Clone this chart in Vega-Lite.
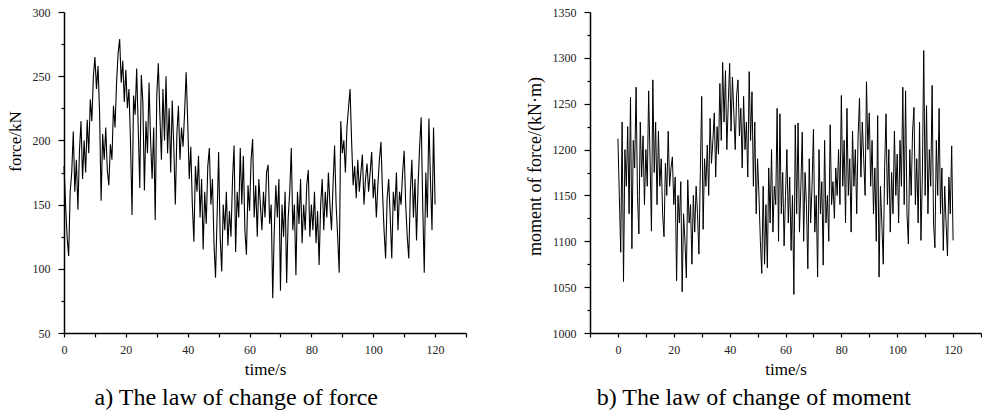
{
  "$schema": "https://vega.github.io/schema/vega-lite/v6.json",
  "padding": {"left": 6, "top": 6, "right": 0, "bottom": 0},
  "background": "white",
  "spacing": 59,
  "config": {
    "view": {"stroke": null},
    "axis": {
      "grid": false,
      "domainColor": "#000",
      "domainWidth": 1.5,
      "tickColor": "#000",
      "tickWidth": 1.2,
      "labelFont": "Liberation Serif",
      "labelFontSize": 12,
      "labelColor": "#222",
      "titleFont": "Liberation Serif",
      "titleFontWeight": "normal",
      "titleColor": "#000",
      "labelFlush": false,
      "labelOverlap": false,
      "format": "d"
    },
    "title": {"font": "Liberation Serif", "fontSize": 24, "fontWeight": "normal", "color": "#000"}
  },
  "datasets": {
    "force": [
      {"t":0,"v":180},{"t":0.5,"v":150},{"t":1,"v":125},{"t":1.5,"v":110},{"t":2,"v":160},{"t":2.5,"v":175},{"t":3,"v":207},{"t":3.5,"v":160},{"t":4,"v":185},{"t":4.5,"v":146},
      {"t":5,"v":192},{"t":5.5,"v":215},{"t":6,"v":170},{"t":6.5,"v":200},{"t":7,"v":175},{"t":7.5,"v":216},{"t":8,"v":190},{"t":8.5,"v":232},{"t":9,"v":215},{"t":9.5,"v":250},
      {"t":10,"v":265},{"t":10.5,"v":240},{"t":11,"v":258},{"t":11.5,"v":222},{"t":12,"v":153},{"t":12.5,"v":205},{"t":13,"v":185},{"t":13.5,"v":210},{"t":14,"v":177},{"t":14.5,"v":165},
      {"t":15,"v":197},{"t":15.5,"v":185},{"t":16,"v":227},{"t":16.5,"v":210},{"t":17,"v":245},{"t":17.5,"v":268},{"t":18,"v":279},{"t":18.5,"v":245},{"t":19,"v":262},{"t":19.5,"v":230},
      {"t":20,"v":255},{"t":20.5,"v":225},{"t":21,"v":240},{"t":21.5,"v":200},{"t":22,"v":142},{"t":22.5,"v":235},{"t":23,"v":220},{"t":23.5,"v":256},{"t":24,"v":210},{"t":24.5,"v":163},
      {"t":25,"v":251},{"t":25.5,"v":230},{"t":26,"v":161},{"t":26.5,"v":215},{"t":27,"v":190},{"t":27.5,"v":245},{"t":28,"v":200},{"t":28.5,"v":170},{"t":29,"v":210},{"t":29.5,"v":138},
      {"t":30,"v":235},{"t":30.5,"v":260},{"t":31,"v":220},{"t":31.5,"v":185},{"t":32,"v":240},{"t":32.5,"v":200},{"t":33,"v":250},{"t":33.5,"v":190},{"t":34,"v":225},{"t":34.5,"v":175},
      {"t":35,"v":231},{"t":35.5,"v":195},{"t":36,"v":150},{"t":36.5,"v":205},{"t":37,"v":227},{"t":37.5,"v":185},{"t":38,"v":210},{"t":38.5,"v":195},{"t":39,"v":222},{"t":39.5,"v":253},
      {"t":40,"v":215},{"t":40.5,"v":170},{"t":41,"v":195},{"t":41.5,"v":150},{"t":42,"v":121},{"t":42.5,"v":180},{"t":43,"v":160},{"t":43.5,"v":188},{"t":44,"v":140},{"t":44.5,"v":170},
      {"t":45,"v":115},{"t":45.5,"v":160},{"t":46,"v":135},{"t":46.5,"v":180},{"t":47,"v":194},{"t":47.5,"v":150},{"t":48,"v":170},{"t":48.5,"v":120},{"t":49,"v":93},{"t":49.5,"v":140},
      {"t":50,"v":191},{"t":50.5,"v":125},{"t":51,"v":98},{"t":51.5,"v":150},{"t":52,"v":130},{"t":52.5,"v":160},{"t":53,"v":118},{"t":53.5,"v":145},{"t":54,"v":125},{"t":54.5,"v":170},
      {"t":55,"v":196},{"t":55.5,"v":113},{"t":56,"v":160},{"t":56.5,"v":140},{"t":57,"v":194},{"t":57.5,"v":150},{"t":58,"v":188},{"t":58.5,"v":130},{"t":59,"v":111},{"t":59.5,"v":165},
      {"t":60,"v":145},{"t":60.5,"v":185},{"t":61,"v":201},{"t":61.5,"v":140},{"t":62,"v":165},{"t":62.5,"v":125},{"t":63,"v":170},{"t":63.5,"v":150},{"t":64,"v":130},{"t":64.5,"v":160},
      {"t":65,"v":140},{"t":65.5,"v":175},{"t":66,"v":181},{"t":66.5,"v":135},{"t":67,"v":150},{"t":67.5,"v":77},{"t":68,"v":130},{"t":68.5,"v":165},{"t":69,"v":140},{"t":69.5,"v":170},
      {"t":70,"v":83},{"t":70.5,"v":150},{"t":71,"v":125},{"t":71.5,"v":160},{"t":72,"v":89},{"t":72.5,"v":140},{"t":73,"v":160},{"t":73.5,"v":194},{"t":74,"v":130},{"t":74.5,"v":150},
      {"t":75,"v":95},{"t":75.5,"v":160},{"t":76,"v":135},{"t":76.5,"v":170},{"t":77,"v":120},{"t":77.5,"v":150},{"t":78,"v":130},{"t":78.5,"v":165},{"t":79,"v":177},{"t":79.5,"v":125},
      {"t":80,"v":150},{"t":80.5,"v":130},{"t":81,"v":160},{"t":81.5,"v":120},{"t":82,"v":145},{"t":82.5,"v":103},{"t":83,"v":150},{"t":83.5,"v":170},{"t":84,"v":130},{"t":84.5,"v":160},
      {"t":85,"v":140},{"t":85.5,"v":175},{"t":86,"v":150},{"t":86.5,"v":130},{"t":87,"v":165},{"t":87.5,"v":196},{"t":88,"v":150},{"t":88.5,"v":125},{"t":89,"v":97},{"t":89.5,"v":215},
      {"t":90,"v":190},{"t":90.5,"v":200},{"t":91,"v":175},{"t":91.5,"v":210},{"t":92,"v":225},{"t":92.5,"v":240},{"t":93,"v":200},{"t":93.5,"v":165},{"t":94,"v":180},{"t":94.5,"v":155},
      {"t":95,"v":185},{"t":95.5,"v":160},{"t":96,"v":175},{"t":96.5,"v":189},{"t":97,"v":150},{"t":97.5,"v":170},{"t":98,"v":182},{"t":98.5,"v":160},{"t":99,"v":175},{"t":99.5,"v":191},
      {"t":100,"v":155},{"t":100.5,"v":170},{"t":101,"v":140},{"t":101.5,"v":165},{"t":102,"v":185},{"t":102.5,"v":199},{"t":103,"v":160},{"t":103.5,"v":130},{"t":104,"v":108},{"t":104.5,"v":155},
      {"t":105,"v":170},{"t":105.5,"v":140},{"t":106,"v":108},{"t":106.5,"v":160},{"t":107,"v":145},{"t":107.5,"v":175},{"t":108,"v":130},{"t":108.5,"v":160},{"t":109,"v":150},{"t":109.5,"v":175},
      {"t":110,"v":192},{"t":110.5,"v":150},{"t":111,"v":125},{"t":111.5,"v":108},{"t":112,"v":160},{"t":112.5,"v":185},{"t":113,"v":140},{"t":113.5,"v":170},{"t":114,"v":122},{"t":114.5,"v":165},
      {"t":115,"v":195},{"t":115.5,"v":218},{"t":116,"v":150},{"t":116.5,"v":97},{"t":117,"v":175},{"t":117.5,"v":140},{"t":118,"v":217},{"t":118.5,"v":170},{"t":119,"v":130},{"t":119.5,"v":210},
      {"t":120,"v":150}
    ],
    "moment": [
      {"t":0,"v":1212},{"t":0.5,"v":1150},{"t":1,"v":1088},{"t":1.5,"v":1230},{"t":2,"v":1056},{"t":2.5,"v":1200},{"t":3,"v":1160},{"t":3.5,"v":1225},{"t":4,"v":1130},{"t":4.5,"v":1257},
      {"t":5,"v":1092},{"t":5.5,"v":1210},{"t":6,"v":1180},{"t":6.5,"v":1268},{"t":7,"v":1150},{"t":7.5,"v":1108},{"t":8,"v":1230},{"t":8.5,"v":1170},{"t":9,"v":1215},{"t":9.5,"v":1140},
      {"t":10,"v":1200},{"t":10.5,"v":1160},{"t":11,"v":1264},{"t":11.5,"v":1190},{"t":12,"v":1111},{"t":12.5,"v":1276},{"t":13,"v":1175},{"t":13.5,"v":1230},{"t":14,"v":1140},{"t":14.5,"v":1220},
      {"t":15,"v":1160},{"t":15.5,"v":1190},{"t":16,"v":1130},{"t":16.5,"v":1105},{"t":17,"v":1185},{"t":17.5,"v":1150},{"t":18,"v":1220},{"t":18.5,"v":1160},{"t":19,"v":1180},{"t":19.5,"v":1192},
      {"t":20,"v":1140},{"t":20.5,"v":1170},{"t":21,"v":1057},{"t":21.5,"v":1150},{"t":22,"v":1120},{"t":22.5,"v":1165},{"t":23,"v":1045},{"t":23.5,"v":1130},{"t":24,"v":1100},{"t":24.5,"v":1060},
      {"t":25,"v":1167},{"t":25.5,"v":1120},{"t":26,"v":1140},{"t":26.5,"v":1075},{"t":27,"v":1150},{"t":27.5,"v":1110},{"t":28,"v":1160},{"t":28.5,"v":1130},{"t":29,"v":1086},{"t":29.5,"v":1175},
      {"t":30,"v":1258},{"t":30.5,"v":1113},{"t":31,"v":1190},{"t":31.5,"v":1160},{"t":32,"v":1205},{"t":32.5,"v":1150},{"t":33,"v":1234},{"t":33.5,"v":1185},{"t":34,"v":1210},{"t":34.5,"v":1240},
      {"t":35,"v":1170},{"t":35.5,"v":1225},{"t":36,"v":1195},{"t":36.5,"v":1272},{"t":37,"v":1210},{"t":37.5,"v":1295},{"t":38,"v":1230},{"t":38.5,"v":1286},{"t":39,"v":1200},{"t":39.5,"v":1250},
      {"t":40,"v":1294},{"t":40.5,"v":1220},{"t":41,"v":1279},{"t":41.5,"v":1240},{"t":42,"v":1200},{"t":42.5,"v":1260},{"t":43,"v":1276},{"t":43.5,"v":1215},{"t":44,"v":1245},{"t":44.5,"v":1180},
      {"t":45,"v":1258},{"t":45.5,"v":1200},{"t":46,"v":1230},{"t":46.5,"v":1170},{"t":47,"v":1285},{"t":47.5,"v":1210},{"t":48,"v":1263},{"t":48.5,"v":1160},{"t":49,"v":1230},{"t":49.5,"v":1130},
      {"t":50,"v":1190},{"t":50.5,"v":1150},{"t":51,"v":1100},{"t":51.5,"v":1065},{"t":52,"v":1160},{"t":52.5,"v":1075},{"t":53,"v":1140},{"t":53.5,"v":1071},{"t":54,"v":1180},{"t":54.5,"v":1120},
      {"t":55,"v":1200},{"t":55.5,"v":1110},{"t":56,"v":1160},{"t":56.5,"v":1140},{"t":57,"v":1245},{"t":57.5,"v":1100},{"t":58,"v":1239},{"t":58.5,"v":1130},{"t":59,"v":1175},{"t":59.5,"v":1095},
      {"t":60,"v":1150},{"t":60.5,"v":1200},{"t":61,"v":1120},{"t":61.5,"v":1170},{"t":62,"v":1090},{"t":62.5,"v":1150},{"t":63,"v":1042},{"t":63.5,"v":1227},{"t":64,"v":1130},{"t":64.5,"v":1229},
      {"t":65,"v":1110},{"t":65.5,"v":1160},{"t":66,"v":1219},{"t":66.5,"v":1100},{"t":67,"v":1175},{"t":67.5,"v":1140},{"t":68,"v":1070},{"t":68.5,"v":1190},{"t":69,"v":1120},{"t":69.5,"v":1160},
      {"t":70,"v":1222},{"t":70.5,"v":1110},{"t":71,"v":1150},{"t":71.5,"v":1061},{"t":72,"v":1200},{"t":72.5,"v":1130},{"t":73,"v":1165},{"t":73.5,"v":1074},{"t":74,"v":1210},{"t":74.5,"v":1120},
      {"t":75,"v":1150},{"t":75.5,"v":1100},{"t":76,"v":1227},{"t":76.5,"v":1140},{"t":77,"v":1165},{"t":77.5,"v":1125},{"t":78,"v":1180},{"t":78.5,"v":1150},{"t":79,"v":1200},{"t":79.5,"v":1140},
      {"t":80,"v":1259},{"t":80.5,"v":1160},{"t":81,"v":1210},{"t":81.5,"v":1120},{"t":82,"v":1245},{"t":82.5,"v":1150},{"t":83,"v":1190},{"t":83.5,"v":1110},{"t":84,"v":1220},{"t":84.5,"v":1160},
      {"t":85,"v":1200},{"t":85.5,"v":1130},{"t":86,"v":1215},{"t":86.5,"v":1256},{"t":87,"v":1170},{"t":87.5,"v":1230},{"t":88,"v":1190},{"t":88.5,"v":1150},{"t":89,"v":1274},{"t":89.5,"v":1200},
      {"t":90,"v":1240},{"t":90.5,"v":1160},{"t":91,"v":1210},{"t":91.5,"v":1130},{"t":92,"v":1180},{"t":92.5,"v":1100},{"t":93,"v":1237},{"t":93.5,"v":1061},{"t":94,"v":1160},{"t":94.5,"v":1120},
      {"t":95,"v":1075},{"t":95.5,"v":1180},{"t":96,"v":1239},{"t":96.5,"v":1140},{"t":97,"v":1200},{"t":97.5,"v":1110},{"t":98,"v":1175},{"t":98.5,"v":1130},{"t":99,"v":1220},{"t":99.5,"v":1150},
      {"t":100,"v":1195},{"t":100.5,"v":1120},{"t":101,"v":1210},{"t":101.5,"v":1160},{"t":102,"v":1268},{"t":102.5,"v":1140},{"t":103,"v":1264},{"t":103.5,"v":1130},{"t":104,"v":1097},{"t":104.5,"v":1200},
      {"t":105,"v":1150},{"t":105.5,"v":1220},{"t":106,"v":1246},{"t":106.5,"v":1140},{"t":107,"v":1190},{"t":107.5,"v":1120},{"t":108,"v":1230},{"t":108.5,"v":1101},{"t":109,"v":1170},{"t":109.5,"v":1308},
      {"t":110,"v":1150},{"t":110.5,"v":1248},{"t":111,"v":1130},{"t":111.5,"v":1200},{"t":112,"v":1160},{"t":112.5,"v":1270},{"t":113,"v":1120},{"t":113.5,"v":1093},{"t":114,"v":1210},{"t":114.5,"v":1150},
      {"t":115,"v":1245},{"t":115.5,"v":1130},{"t":116,"v":1180},{"t":116.5,"v":1090},{"t":117,"v":1160},{"t":117.5,"v":1120},{"t":118,"v":1084},{"t":118.5,"v":1170},{"t":119,"v":1130},{"t":119.5,"v":1204},
      {"t":120,"v":1101}
    ]
  },
  "hconcat": [
    {
      "width": 402,
      "height": 321,
      "data": {"name": "force"},
      "title": {"text": "a) The law of change of force", "orient": "bottom", "anchor": "middle", "frame": "bounds", "offset": 9},
      "mark": {"type": "line", "color": "#000", "strokeWidth": 1.1},
      "encoding": {
        "x": {
          "field": "t", "type": "quantitative",
          "scale": {"domain": [0, 130], "nice": false, "zero": false},
          "axis": {
            "title": "time/s", "titleFontSize": 17, "titlePadding": 6,
            "values": [0,10,20,30,40,50,60,70,80,90,100,110,120,130],
            "labelExpr": "(datum.value % 20 === 0 && datum.value <= 120) ? datum.label : ''",
            "tickSize": 4, "labelPadding": 7
          }
        },
        "y": {
          "field": "v", "type": "quantitative",
          "scale": {"domain": [50, 300], "nice": false, "zero": false},
          "axis": {
            "title": "force/kN", "titleFontSize": 17, "titlePadding": 8, "titleY": 129,
            "values": [50,75,100,125,150,175,200,225,250,275,300],
            "labelExpr": "datum.value % 50 === 0 ? datum.label : ''",
            "tickSize": {"condition": {"test": "datum.value % 50 === 0", "value": 6}, "value": 3},
            "labelPadding": 8
          }
        }
      }
    },
    {
      "width": 391,
      "height": 321,
      "data": {"name": "moment"},
      "title": {"text": "b) The law of change of moment", "orient": "bottom", "anchor": "middle", "frame": "bounds", "offset": 9},
      "mark": {"type": "line", "color": "#000", "strokeWidth": 1},
      "encoding": {
        "x": {
          "field": "t", "type": "quantitative",
          "scale": {"domain": [-10, 130], "nice": false, "zero": false},
          "axis": {
            "title": "time/s", "titleFontSize": 17, "titlePadding": 6,
            "values": [-10,0,10,20,30,40,50,60,70,80,90,100,110,120,130],
            "labelExpr": "(datum.value % 20 === 0 && datum.value >= 0 && datum.value <= 120) ? datum.label : ''",
            "tickSize": 4, "labelPadding": 7
          }
        },
        "y": {
          "field": "v", "type": "quantitative",
          "scale": {"domain": [1000, 1350], "nice": false, "zero": false},
          "axis": {
            "title": "moment of force/(kN·m)", "titleFontSize": 18, "titlePadding": 8, "titleY": 154,
            "values": [1000,1025,1050,1075,1100,1125,1150,1175,1200,1225,1250,1275,1300,1325,1350],
            "labelExpr": "datum.value % 50 === 0 ? datum.label : ''",
            "tickSize": {"condition": {"test": "datum.value % 50 === 0", "value": 6}, "value": 3},
            "labelPadding": 8
          }
        }
      }
    }
  ]
}
